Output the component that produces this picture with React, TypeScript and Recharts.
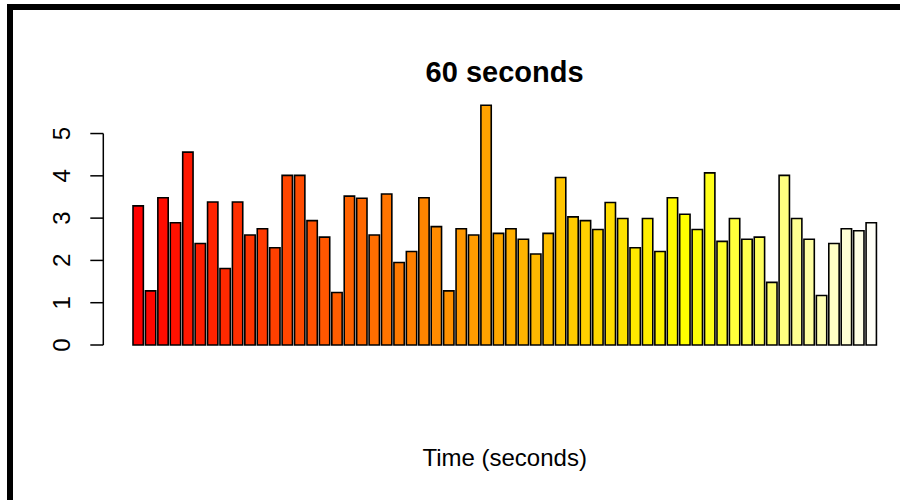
import { BarChart, Bar, XAxis, YAxis, Cell, ReferenceLine } from 'recharts';

// one reading per second
const SECONDS = Array.from({ length: 60 }, (_, i) => i + 1);

const VALUES = [
  3.29, 1.28, 3.48, 2.89, 4.56, 2.4, 3.38, 1.81, 3.38, 2.6,
  2.75, 2.3, 4.01, 4.01, 2.94, 2.55, 1.24, 3.52, 3.47, 2.6,
  3.57, 1.95, 2.21, 3.48, 2.8, 1.28, 2.75, 2.6, 5.67, 2.64,
  2.75, 2.5, 2.15, 2.64, 3.96, 3.03, 2.94, 2.73, 3.37, 2.99,
  2.3, 2.99, 2.21, 3.48, 3.09, 2.73, 4.07, 2.45, 2.99, 2.5,
  2.55, 1.48, 4.01, 2.99, 2.5, 1.17, 2.4, 2.75, 2.7, 2.89,
];

const Y_TICKS = [0, 1, 2, 3, 4, 5];

// R-style heat palette: red -> yellow hues, then yellow fading to white
function heatColors(n: number): string[] {
  const j = Math.floor(n / 4);
  const i = n - j;
  const hex = (v: number) => Math.round(v * 255).toString(16).padStart(2, '0');
  const out: string[] = [];
  for (let k = 0; k < i; k++) {
    const h = i > 1 ? (k / (i - 1)) * (1 / 6) : 0;
    out.push('#ff' + hex(h * 6) + '00');
  }
  for (let k = 0; k < j; k++) {
    const from = 1 - 1 / (2 * j);
    const to = 1 / (2 * j);
    const s = j > 1 ? from + ((to - from) * k) / (j - 1) : from;
    out.push('#ffff' + hex(1 - s));
  }
  return out;
}

const COLORS = heatColors(VALUES.length);

const data = SECONDS.map((t, i) => ({ t, value: VALUES[i] }));

// plot region like R's usr: 4% extension below zero and above the max
const Y_DOMAIN = [-0.227, 5.897];

const MARGIN = { top: 95.6, right: 14, left: 43.3, bottom: 0 };
const Y_AXIS_WIDTH = 60;
const PLOT_LEFT = MARGIN.left + Y_AXIS_WIDTH;

const FONT = '"Liberation Sans", Arial, Helvetica, sans-serif';

const RotatedTick = (props: any) => {
  const { x, y, payload } = props;
  return (
    <text
      x={x}
      y={y}
      transform={`rotate(-90, ${x}, ${y})`}
      textAnchor="middle"
      fontFamily={FONT}
      fontSize={24}
      fill="#000"
    >
      {payload.value}
    </text>
  );
};

// y axis line runs only over the tick range, at the left edge of the plot
const AxisLine = (props: any) => (
  <line
    x1={PLOT_LEFT}
    x2={PLOT_LEFT}
    y1={props.y1}
    y2={props.y2}
    stroke="#000"
    strokeWidth={1.5}
  />
);

export default function App() {
  return (
    <div
      style={{
        position: 'absolute',
        left: 0,
        top: 0,
        width: 900,
        height: 500,
        background: '#fff',
        overflow: 'hidden',
      }}
    >
      <BarChart width={920} height={500} data={data} margin={MARGIN}>
        <XAxis
          dataKey="t"
          type="category"
          height={145.4}
          padding={{ left: 28.7, right: 28.5 }}
          axisLine={false}
          tickLine={false}
          tick={false}
          label={({ viewBox }: any) => (
            <text
              x={viewBox.x + viewBox.width / 2}
              y={viewBox.y + 111.5}
              textAnchor="middle"
              fontFamily={FONT}
              fontSize={24}
              fill="#000"
            >
              Time (seconds)
            </text>
          )}
        />
        <YAxis
          width={Y_AXIS_WIDTH}
          domain={Y_DOMAIN}
          ticks={Y_TICKS}
          allowDataOverflow
          axisLine={false}
          tickSize={13}
          tickMargin={20}
          tickLine={{ stroke: '#000', strokeWidth: 1.5 }}
          tick={<RotatedTick />}
        />
        <ReferenceLine
          segment={[
            { x: SECONDS[0], y: Y_TICKS[0] },
            { x: SECONDS[0], y: Y_TICKS[Y_TICKS.length - 1] },
          ]}
          position="start"
          ifOverflow="visible"
          shape={AxisLine}
        />
        <Bar
          dataKey="value"
          barSize={10.35}
          stroke="#000"
          strokeWidth={1.6}
          isAnimationActive={false}
        >
          {data.map((d, i) => (
            <Cell key={`bar-${d.t}`} fill={COLORS[i]} />
          ))}
        </Bar>
        <text
          x={504.6}
          y={82}
          textAnchor="middle"
          fontFamily={FONT}
          fontSize={29}
          fontWeight="bold"
          fill="#000"
        >
          60 seconds
        </text>
      </BarChart>
      <div
        style={{
          position: 'absolute',
          left: 7,
          top: 4,
          width: 900,
          height: 500,
          borderTop: '6px solid #000',
          borderLeft: '6px solid #000',
          pointerEvents: 'none',
        }}
      />
    </div>
  );
}
